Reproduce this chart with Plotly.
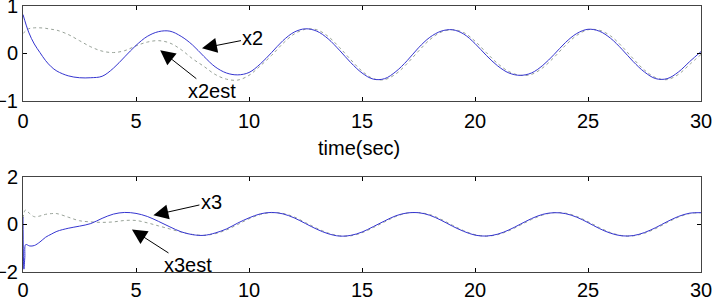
import plotly.graph_objects as go

# ---------------- data ----------------
t_x2 = [0, 0.25, 0.5, 0.75, 1.0, 1.25, 1.5, 2.0, 2.5, 3.0, 3.5, 4.0, 4.5, 5.0, 5.5, 6.0, 6.5, 7.0, 7.5,
        8.0, 8.5, 9.0, 9.5, 10.0, 10.5, 11.0, 11.5, 12.0, 12.5, 13.0, 13.5, 14.0, 14.5, 15.0, 15.5,
        16.0, 16.5, 17.0, 17.5, 18.0, 18.5, 19.0, 19.5, 20.0, 20.5, 21.0, 21.5, 22.0, 22.5, 23.0,
        23.5, 24.0, 24.5, 25.0, 25.5, 26.0, 26.5, 27.0, 27.5, 28.0, 28.5, 29.0, 29.5, 30.0]
x2 = [0.82, 0.45, 0.20, 0.02, -0.15, -0.28, -0.37, -0.47, -0.51, -0.51, -0.48, -0.31, -0.07, 0.17, 0.36,
      0.46, 0.47, 0.36, 0.18, -0.06, -0.28, -0.41, -0.45, -0.40, -0.22, 0.02, 0.27, 0.45, 0.52, 0.47,
      0.31, 0.07, -0.19, -0.41, -0.54, -0.53, -0.38, -0.15, 0.12, 0.34, 0.47, 0.50, 0.41, 0.21, -0.04,
      -0.26, -0.41, -0.46, -0.41, -0.25, -0.02, 0.23, 0.42, 0.51, 0.47, 0.32, 0.09, -0.17, -0.39,
      -0.53, -0.53, -0.39, -0.17, 0.04]
x2est = [0.42, 0.52, 0.54, 0.54, 0.53, 0.51, 0.49, 0.40, 0.27, 0.14, 0.05, 0.02, 0.06, 0.16, 0.24,
         0.27, 0.22, 0.08, -0.11, -0.27, -0.44, -0.54, -0.56, -0.46, -0.26, -0.04, 0.21, 0.41, 0.51,
         0.50, 0.36, 0.13, -0.13, -0.37, -0.53, -0.55, -0.43, -0.21, 0.05, 0.29, 0.45, 0.50, 0.44,
         0.26, 0.02, -0.21, -0.38, -0.46, -0.44, -0.30, -0.08, 0.17, 0.38, 0.50, 0.49, 0.37, 0.15,
         -0.11, -0.35, -0.51, -0.55, -0.44, -0.23, -0.02]

t_x3 = [0, 0.04, 0.08, 0.12, 0.3, 0.5, 0.75, 1.0, 1.25, 1.5, 2.0, 2.5, 3.0, 3.5, 4.0, 4.5, 5.0, 5.5,
        6.0, 6.5, 7.0, 7.5, 8.0, 8.5, 9.0, 9.5, 10.0, 10.5, 11.0, 11.5, 12.0, 12.5, 13.0, 13.5, 14.0,
        14.5, 15.0, 15.5, 16.0, 16.5, 17.0, 17.5, 18.0, 18.5, 19.0, 19.5, 20.0, 20.5, 21.0, 21.5,
        22.0, 22.5, 23.0, 23.5, 24.0, 24.5, 25.0, 25.5, 26.0, 26.5, 27.0, 27.5, 28.0, 28.5, 29.0,
        29.5, 30.0]
x3 = [0.30, -1.90, -1.40, -0.86, -0.92, -0.90, -0.75, -0.55, -0.42, -0.30, -0.17, -0.08, 0.03, 0.25,
      0.43, 0.50, 0.46, 0.33, 0.12, -0.11, -0.32, -0.44, -0.47, -0.37, -0.20, 0.05, 0.27, 0.44, 0.50,
      0.44, 0.27, 0.03, -0.21, -0.40, -0.50, -0.47, -0.33, -0.10, 0.14, 0.36, 0.48, 0.49, 0.38, 0.17,
      -0.08, -0.30, -0.46, -0.50, -0.42, -0.24, 0.00, 0.24, 0.42, 0.49, 0.45, 0.30, 0.07, -0.18,
      -0.38, -0.49, -0.48, -0.35, -0.14, 0.11, 0.33, 0.47, 0.49]
x3est = [0.25, 0.45, 0.58, 0.60, 0.45, 0.32, 0.35, 0.42, 0.45, 0.45, 0.30, 0.15, 0.10, 0.08, 0.10,
         0.16, 0.16, 0.06, -0.07, -0.20, -0.33, -0.43, -0.47, -0.40, -0.24, -0.01, 0.23, 0.41, 0.49,
         0.46, 0.31, 0.07, -0.17, -0.37, -0.49, -0.49, -0.36, -0.14, 0.10, 0.33, 0.47, 0.49, 0.41,
         0.21, -0.04, -0.27, -0.44, -0.50, -0.44, -0.27, -0.04, 0.20, 0.39, 0.49, 0.47, 0.33, 0.11,
         -0.14, -0.35, -0.48, -0.49, -0.38, -0.18, 0.07, 0.30, 0.45, 0.49]

x_ticks = [0, 5, 10, 15, 20, 25, 30]
y2_ticks = [-1, 0, 1]
y3_ticks = [-2, 0, 2]

# ---------------- figure ----------------
BLUE = "#3535d0"
GREY = "#98a298"
FONT = "Arial, Liberation Sans, sans-serif"

fig = go.Figure()
fig.add_trace(go.Scatter(x=t_x2, y=x2est, mode="lines", line=dict(color=GREY, width=1, dash="dot", shape="spline"),
                         xaxis="x", yaxis="y", showlegend=False))
fig.add_trace(go.Scatter(x=t_x2, y=x2, mode="lines", line=dict(color=BLUE, width=1, shape="spline"),
                         xaxis="x", yaxis="y", showlegend=False))
fig.add_trace(go.Scatter(x=t_x3, y=x3est, mode="lines", line=dict(color=GREY, width=1, dash="dot", shape="spline"),
                         xaxis="x2", yaxis="y2", showlegend=False))
fig.add_trace(go.Scatter(x=t_x3, y=x3, mode="lines", line=dict(color=BLUE, width=1, shape="spline"),
                         xaxis="x2", yaxis="y2", showlegend=False))

axis_common = dict(showline=True, linecolor="#444444", linewidth=1, mirror="ticks", ticks="inside",
                   ticklen=4, tickcolor="#000000", showgrid=False, zeroline=False, automargin=False,
                   ticklabeloverflow="allow",
                   tickfont=dict(family=FONT, size=20, color="#000000"))

fig.update_layout(
    width=712, height=298,
    margin=dict(l=23, r=11, t=0, b=0),
    paper_bgcolor="white", plot_bgcolor="white",
    xaxis=dict(domain=[0, 1], range=[0, 30], tickvals=x_ticks, anchor="y", ticklabelstandoff=2, **axis_common),
    yaxis=dict(domain=[0.6611, 0.9799], range=[-1, 1], tickvals=y2_ticks, anchor="x", **axis_common),
    xaxis2=dict(domain=[0, 1], range=[0, 30], tickvals=x_ticks, anchor="y2", ticklabelstandoff=0, **axis_common),
    yaxis2=dict(domain=[0.0889, 0.4060], range=[-2, 2], tickvals=y3_ticks, anchor="x2", **axis_common),
)

arrow = dict(showarrow=True, arrowhead=2, arrowsize=3, arrowwidth=1, arrowcolor="black",
             font=dict(family=FONT, size=20, color="black"))
fig.add_annotation(x=7.92, y=0.11, xref="x", yref="y", text="x2", ax=51, ay=-10, **arrow)
fig.add_annotation(x=6.07, y=0.07, xref="x", yref="y", text="x2est", ax=52, ay=41, **arrow)
fig.add_annotation(x=5.77, y=0.38, xref="x2", yref="y2", text="x3", ax=58, ay=-13, **arrow)
fig.add_annotation(x=4.82, y=-0.22, xref="x2", yref="y2", text="x3est", ax=56, ay=36, **arrow)

fig.add_annotation(x=0.4956, y=0.503, xref="paper", yref="paper", text="time(sec)", showarrow=False,
                   font=dict(family=FONT, size=20, color="black"), xanchor="center", yanchor="middle")

fig.write_html("out.html", config={"displayModeBar": False},
               post_script="document.body.style.margin='0';document.body.style.overflow='hidden';")
